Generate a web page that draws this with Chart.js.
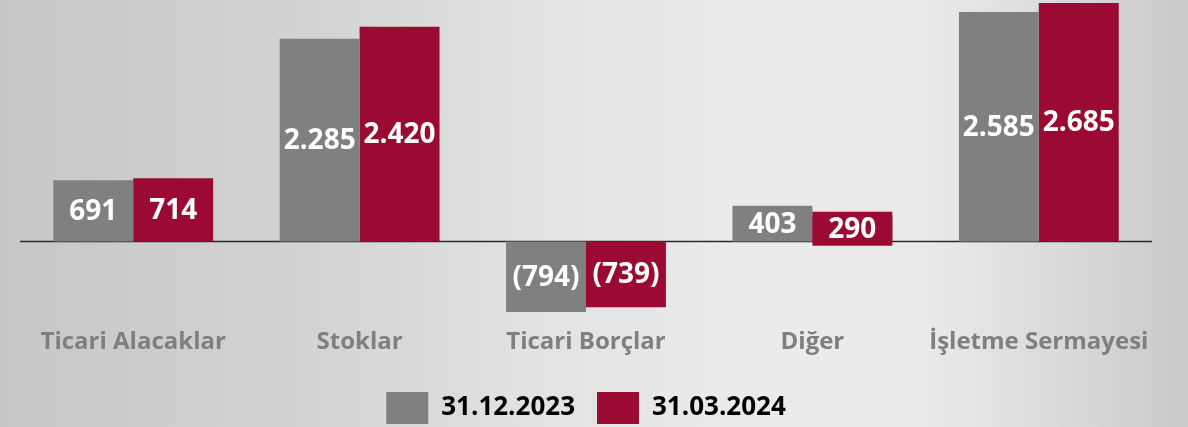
<!DOCTYPE html>
<html><head><meta charset="utf-8">
<script src="https://cdn.jsdelivr.net/npm/chart.js@4/dist/chart.umd.min.js"></script>
<style>
html,body{margin:0;padding:0;}
body{width:1188px;height:427px;overflow:hidden;
background:linear-gradient(90deg,#c7c7c7 0%,#d2d2d2 25%,#e2e2e2 45%,#ebebeb 62%,#eaeaea 78%,#d6d6d6 92%,#c9c9c9 100%);}
#wrap{position:relative;width:1188px;height:427px;overflow:hidden;}
canvas{position:absolute;left:0;top:0;}
</style></head>
<body><div id="wrap"><canvas id="c" width="1188" height="436"></canvas></div>
<script>
const categories = ['Ticari Alacaklar','Stoklar','Ticari Borçlar','Diğer','İşletme Sermayesi'];
const seriesNames = ['31.12.2023','31.03.2024'];
const values2023 = [691, 2285, -794, 403, 2585];
const values2024 = [714, 2420, -739, 290, 2685];
const colors = ['#808080','#9b0a32'];

function fmt(v){
  const a = Math.abs(v).toString().replace(/\B(?=(\d{3})+(?!\d))/g,'.');
  return v < 0 ? '(' + a + ')' : a;
}

const valueLabels = {
  id:'valueLabels',
  beforeDatasetsDraw(chart){
    const {ctx, chartArea, scales} = chart;
    const y0 = scales.y.getPixelForValue(0);
    ctx.save();
    ctx.strokeStyle = '#2a2a2a';
    ctx.lineWidth = 1.5;
    ctx.beginPath();
    ctx.moveTo(chartArea.left, y0);
    ctx.lineTo(chartArea.right, y0);
    ctx.stroke();
    ctx.restore();
  },
  afterDatasetsDraw(chart){
    const ctx = chart.ctx;
    ctx.save();
    ctx.font = 'bold 28px "Open Sans"';
    ctx.textAlign = 'center';
    ctx.textBaseline = 'middle';
    chart.data.datasets.forEach((ds, di) => {
      const meta = chart.getDatasetMeta(di);
      meta.data.forEach((bar, i) => {
        const v = ds.data[i];
        const top = Math.min(bar.y, bar.base), bot = Math.max(bar.y, bar.base);
        const cy = (top + bot) / 2;
        const h = bot - top;
        if (h < 32) {
          ctx.fillStyle = ds.backgroundColor;
          ctx.fillRect(bar.x - bar.width/2, cy - 17, bar.width, 34);
        }
        ctx.fillStyle = '#ffffff';
        ctx.fillText(fmt(v), bar.x, cy + 1);
      });
    });
    ctx.restore();
  }
};

new Chart(document.getElementById('c'), {
  type:'bar',
  data:{
    labels: categories,
    datasets:[
      {label: seriesNames[0], data: values2023, backgroundColor: colors[0], borderWidth:0, clip:30},
      {label: seriesNames[1], data: values2024, backgroundColor: colors[1], borderWidth:0, clip:30}
    ]
  },
  options:{
    responsive:false,
    animation:false,
    layout:{padding:{left:20,right:36,top:0,bottom:2}},
    datasets:{bar:{categoryPercentage:0.706, barPercentage:1.0}},
    scales:{
      x:{
        grid:{display:false},
        border:{display:false},
        ticks:{font:{family:'"Open Sans"',weight:'bold',size:24,lineHeight:0.475},color:'#7f7f7f',padding:16,crossAlign:'far'}
      },
      y:{display:false, min:-867, max:2720}
    },
    plugins:{
      legend:{
        position:'bottom',
        labels:{
          boxWidth:42, boxHeight:32, padding:22,
          color:'#000000',
          font:{family:'"Open Sans"',weight:'bold',size:26}
        }
      },
      tooltip:{enabled:false}
    }
  },
  plugins:[valueLabels]
});
</script></body></html>
